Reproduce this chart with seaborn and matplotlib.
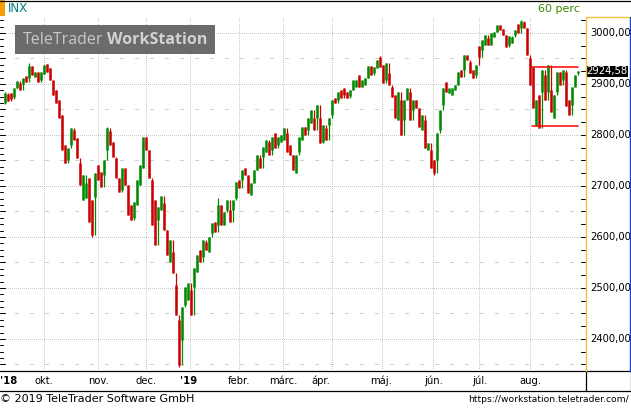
import numpy as np
import pandas as pd
import matplotlib
matplotlib.use("Agg")
import matplotlib.pyplot as plt
import matplotlib.transforms as mtrans
from matplotlib.patches import Rectangle
from matplotlib.lines import Line2D
import seaborn as sns

# ---------------- data (S&P 500 / INX, 60-minute candles, sampled) ----------------
open_ = [2863, 2880, 2882, 2874, 2892, 2902, 2900, 2916, 2912, 2935, 2914, 2923, 2908, 2920, 2939, 2931,
         2908, 2888, 2869, 2839, 2780, 2751, 2780, 2810, 2794, 2745, 2673, 2677, 2716, 2673, 2678, 2741,
         2727, 2722, 2771, 2808, 2786, 2755, 2716, 2692, 2735, 2702, 2663, 2637, 2663, 2702, 2735, 2796,
         2771, 2712, 2673, 2633, 2653, 2667, 2614, 2551, 2571, 2506, 2437, 2398, 2467, 2477, 2496, 2502,
         2531, 2575, 2561, 2590, 2571, 2608, 2629, 2624, 2663, 2624, 2653, 2653, 2653, 2677, 2712, 2712,
         2735, 2722, 2682, 2706, 2731, 2755, 2757, 2767, 2786, 2771, 2804, 2780, 2786, 2790, 2804, 2780,
         2761, 2725, 2767, 2790, 2816, 2810, 2824, 2833, 2833, 2833, 2786, 2814, 2820, 2839, 2873, 2869,
         2888, 2892, 2884, 2876, 2888, 2894, 2918, 2894, 2898, 2912, 2935, 2922, 2931, 2953, 2937, 2908,
         2922, 2894, 2878, 2829, 2869, 2829, 2869, 2884, 2849, 2869, 2853, 2810, 2829, 2771, 2771, 2751,
         2751, 2810, 2859, 2904, 2882, 2878, 2888, 2898, 2927, 2927, 2957, 2943, 2927, 2918, 2974, 2967,
         2976, 2990, 2976, 2992, 3002, 3016, 3008, 2996, 2976, 2980, 2996, 3018, 3010, 3021, 3010, 2951,
         2933, 2820, 2878, 2884, 2918, 2884, 2888, 2833, 2884, 2923, 2908, 2923, 2869, 2859, 2894, 2921]
high = [2885, 2882, 2882, 2892, 2906, 2906, 2912, 2916, 2941, 2935, 2923, 2923, 2923, 2937, 2939, 2931,
        2908, 2888, 2869, 2839, 2780, 2775, 2814, 2814, 2794, 2755, 2722, 2722, 2716, 2673, 2725, 2741,
        2727, 2751, 2816, 2814, 2786, 2757, 2716, 2735, 2735, 2702, 2663, 2669, 2712, 2741, 2796, 2796,
        2771, 2716, 2673, 2659, 2680, 2680, 2614, 2594, 2594, 2530, 2447, 2463, 2502, 2510, 2510, 2539,
        2565, 2575, 2594, 2594, 2600, 2628, 2629, 2676, 2663, 2649, 2673, 2673, 2673, 2708, 2712, 2731,
        2735, 2722, 2706, 2731, 2761, 2761, 2776, 2790, 2790, 2796, 2804, 2796, 2800, 2814, 2814, 2780,
        2761, 2761, 2796, 2816, 2816, 2833, 2849, 2849, 2859, 2859, 2820, 2820, 2833, 2869, 2873, 2884,
        2888, 2892, 2884, 2888, 2908, 2908, 2918, 2908, 2912, 2935, 2935, 2933, 2947, 2954, 2937, 2941,
        2941, 2898, 2878, 2884, 2884, 2869, 2892, 2892, 2869, 2869, 2853, 2839, 2839, 2784, 2784, 2751,
        2804, 2849, 2892, 2904, 2892, 2892, 2898, 2923, 2927, 2957, 2957, 2947, 2927, 2937, 2974, 2986,
        2996, 2996, 3000, 3002, 3016, 3016, 3008, 2996, 2994, 2994, 3006, 3018, 3025, 3023, 3010, 2957,
        2933, 2869, 2878, 2927, 2927, 2937, 2937, 2878, 2923, 2923, 2927, 2927, 2869, 2894, 2918, 2925]
low = [2860, 2867, 2867, 2871, 2892, 2888, 2888, 2904, 2904, 2918, 2914, 2904, 2904, 2920, 2923, 2908,
       2878, 2863, 2833, 2771, 2745, 2745, 2775, 2790, 2755, 2702, 2673, 2677, 2629, 2600, 2604, 2712,
       2698, 2698, 2751, 2780, 2757, 2716, 2688, 2688, 2702, 2643, 2633, 2633, 2663, 2702, 2735, 2771,
       2716, 2624, 2584, 2584, 2653, 2614, 2565, 2551, 2530, 2447, 2346, 2349, 2463, 2477, 2447, 2447,
       2531, 2551, 2551, 2575, 2571, 2600, 2610, 2610, 2624, 2624, 2649, 2629, 2629, 2673, 2696, 2696,
       2722, 2686, 2682, 2706, 2731, 2735, 2735, 2767, 2761, 2761, 2775, 2775, 2786, 2790, 2767, 2761,
       2731, 2725, 2761, 2790, 2800, 2800, 2824, 2810, 2810, 2784, 2784, 2790, 2790, 2833, 2863, 2863,
       2873, 2873, 2873, 2873, 2888, 2894, 2894, 2894, 2898, 2912, 2918, 2918, 2931, 2933, 2902, 2902,
       2898, 2874, 2833, 2829, 2800, 2800, 2869, 2829, 2829, 2853, 2816, 2810, 2775, 2771, 2735, 2722,
       2726, 2804, 2849, 2884, 2882, 2878, 2888, 2898, 2914, 2914, 2947, 2922, 2912, 2912, 2937, 2953,
       2976, 2976, 2976, 2992, 3002, 3006, 2996, 2972, 2972, 2980, 2992, 3000, 3000, 3010, 2957, 2898,
       2853, 2817, 2814, 2814, 2869, 2869, 2845, 2833, 2878, 2898, 2898, 2857, 2839, 2839, 2894, 2918]
close = [2882, 2867, 2871, 2892, 2906, 2888, 2912, 2904, 2935, 2918, 2923, 2904, 2923, 2937, 2923, 2908,
         2878, 2863, 2833, 2771, 2745, 2775, 2814, 2790, 2755, 2702, 2722, 2706, 2629, 2604, 2725, 2712,
         2698, 2751, 2814, 2780, 2757, 2716, 2688, 2735, 2702, 2643, 2633, 2669, 2712, 2741, 2796, 2771,
         2716, 2624, 2584, 2659, 2680, 2614, 2565, 2594, 2530, 2447, 2349, 2463, 2502, 2510, 2447, 2539,
         2565, 2551, 2594, 2575, 2600, 2628, 2610, 2663, 2624, 2649, 2673, 2629, 2673, 2708, 2696, 2731,
         2722, 2686, 2706, 2731, 2761, 2735, 2776, 2790, 2761, 2796, 2775, 2796, 2800, 2814, 2767, 2761,
         2731, 2761, 2796, 2816, 2800, 2833, 2849, 2810, 2859, 2784, 2820, 2790, 2833, 2869, 2863, 2884,
         2873, 2878, 2873, 2888, 2908, 2908, 2894, 2908, 2912, 2935, 2918, 2933, 2947, 2933, 2902, 2941,
         2898, 2874, 2833, 2884, 2800, 2869, 2892, 2829, 2869, 2853, 2816, 2839, 2775, 2784, 2735, 2726,
         2804, 2849, 2892, 2884, 2892, 2892, 2898, 2923, 2914, 2957, 2947, 2922, 2912, 2937, 2953, 2986,
         2996, 2976, 3000, 3002, 3016, 3006, 2996, 2972, 2994, 2992, 3006, 3000, 3023, 3010, 2957, 2898,
         2853, 2869, 2814, 2927, 2869, 2937, 2845, 2878, 2923, 2898, 2927, 2857, 2839, 2894, 2918, 2925]

month_labels = ["'18", "okt.", "nov.", "dec.", "'19", "febr.", "márc.", "ápr.", "máj.", "jún.", "júl.", "aug."]
month_bold = [True, False, False, False, True, False, False, False, False, False, False, False]
month_start_idx = [13.0, 31.0, 47.0, 61.7, 78.1, 92.8, 109.1, 125.5, 142.8, 158.1, 175.0]   # okt .. aug
month_label_idx = [1.3, 13.0, 31.2, 47.0, 61.3, 78.0, 92.8, 105.3, 125.2, 142.7, 158.2, 175.2]
price_ticks = [2400, 2500, 2600, 2700, 2800, 2900, 3000]
last_price = 2924.58
range_high, range_low = 2934, 2818
range_idx = [175.7, 191.0]
symbol, interval = "INX", "60 perc"

# ---------------- figure geometry ----------------
W, H = 631, 408
PL, PR, PT, PB = 0, 585, 16, 370
sns.set_style("white")
plt.rcParams["font.family"] = ["DejaVu Sans"]
fig = plt.figure(figsize=(W / 100, H / 100), dpi=100)
fig.patch.set_facecolor("white")

def fx(x):
    return x / W

def fy(y):
    return 1 - y / H

ax = fig.add_axes([fx(PL), fy(PB), (PR - PL) / W, (PB - PT) / H])
ax.set_xlim(-5 / 3, 580 / 3)
ax.set_ylim(2339.2, 3033.3)
ax.set_axis_off()

# horizontal grid: dotted at 100s, short dashes at 50s; vertical dotted at month starts
for p in range(2400, 3001, 100):
    ax.axhline(p, color="#c8c8c8", lw=0.72, ls=(0, (1, 2)), antialiased=False, zorder=0)
for p in range(2350, 3001, 100):
    ax.axhline(p, color="#d0d0d0", lw=0.72, ls=(0, (4, 11)), antialiased=False, zorder=0)
for m in month_start_idx:
    ax.axvline(m, color="#c8c8c8", lw=0.72, ls=(0, (1, 2)), antialiased=False, zorder=0)

# candles via seaborn (wick = high/low, body = open/close)
n = len(open_)
idx = np.arange(n)
direction = np.where(np.array(close) >= np.array(open_), "up", "down")
pal = {"up": "#008a00", "down": "#cc0000"}
wicks = pd.DataFrame({
    "i": np.repeat(idx, 2),
    "price": np.column_stack([low, high]).ravel(),
    "dir": np.repeat(direction, 2),
})
bodies = pd.DataFrame({
    "i": np.repeat(idx, 2),
    "price": np.column_stack([open_, close]).ravel(),
    "dir": np.repeat(direction, 2),
})
sns.lineplot(data=wicks, x="i", y="price", hue="dir", units="i", estimator=None, sort=False,
             palette=pal, lw=0.9, legend=False, ax=ax, solid_capstyle="butt", zorder=3)
sns.lineplot(data=bodies, x="i", y="price", hue="dir", units="i", estimator=None, sort=False,
             palette=pal, lw=1.8, legend=False, ax=ax, solid_capstyle="butt", zorder=3)

# trading-range lines
rng = pd.DataFrame({"i": range_idx * 2, "price": [range_high] * 2 + [range_low] * 2,
                    "lvl": ["h", "h", "l", "l"]})
sns.lineplot(data=rng, x="i", y="price", units="lvl", estimator=None, color="#ff0000",
             lw=1.1, legend=False, ax=ax, zorder=4)

# y ticks (left every 12.5, right every 25)
bl = mtrans.blended_transform_factory(ax.transAxes, ax.transData)
for k in range(0, 60):
    p = 2350 + 12.5 * k
    if p > 3033:
        break
    ln = 5 if p % 50 == 0 else 3
    ax.add_line(Line2D([0, ln / 585], [p, p], transform=bl, color="black", lw=0.72, clip_on=False))
for k in range(0, 30):
    p = 2350 + 25 * k
    if p > 3033:
        break
    ax.add_line(Line2D([1 - 4 / 585, 1], [p, p], transform=bl, color="black", lw=0.72, clip_on=False))

# right axis labels
for p in price_ticks:
    ax.text(590 / 585, p, f"{p:.2f}".replace(".", ","), transform=bl,
            ha="left", va="center", fontsize=7.2, color="black", clip_on=False)
# last price box
lp_lbl = f"{last_price:.2f}".replace(".", ",")
ax.add_patch(Rectangle((586 / 585, last_price - 10.5), 42 / 585, 21, transform=bl,
                       facecolor="black", edgecolor="none", clip_on=False, zorder=6))
ax.text(607 / 585, last_price, lp_lbl, transform=bl, ha="center", va="center",
        fontsize=7.2, color="white", clip_on=False, zorder=7)

# ---------------- frame lines ----------------
def fline(x0, y0, x1, y1, color="black", lw=0.9):
    fig.add_artist(Line2D([fx(x0), fx(x1)], [fy(y0), fy(y1)], color=color, lw=lw))

fline(0, 0.5, W, 0.5)
fline(0, 370.5, W, 370.5)
fline(0, 390.5, W, 390.5)
fline(585.5, 370.5, 585.5, 390.5)
fline(630.5, 370.5, 630.5, 390.5)
fline(585.5, 16.5, 585.5, 370.5, color="#f0c040", lw=1.0)
fline(585.5, 16.5, 628.5, 16.5, color="#f0c040", lw=1.0)
fline(629.5, 16.5, 629.5, 370.5, color="#2040c0", lw=1.0)
fig.add_artist(Rectangle((fx(0), fy(16)), fx(5), 16 / H, facecolor="#f5a000", edgecolor="none"))

# header
fig.text(fx(8), fy(8.5), symbol, ha="left", va="center", fontsize=8.5, color="#008080")
fig.text(fx(580), fy(8.5), interval, ha="right", va="center", fontsize=8, color="#3a8a00")

# watermark
fig.add_artist(Rectangle((fx(15), fy(54)), 200 / W, 29 / H, facecolor="#6b6b6b", edgecolor="none", zorder=5))
fig.text(fx(23), fy(40), "TeleTrader", ha="left", va="center", fontsize=11.5,
         family="Open Sans", color="#c8c8c8", zorder=6)
fig.text(fx(107), fy(40), "WorkStation", ha="left", va="center", fontsize=11.5,
         family="Open Sans", weight="bold", color="#d2d2d2", zorder=6)

# date axis labels
for lbl, pos, b in zip(month_labels, month_label_idx, month_bold):
    xpx = 5 + 3 * pos
    fig.text(fx(xpx), fy(381), lbl, ha="center", va="center", fontsize=7.2,
             weight="bold" if b else "normal", color="black")

# footer
fig.text(fx(0), fy(399.5), "© 2019 TeleTrader Software GmbH", ha="left", va="center",
         fontsize=8, color="black")
fig.text(fx(629), fy(399.5), "https://workstation.teletrader.com/", ha="right", va="center",
         fontsize=6.6, color="black")

fig.savefig("out.png", dpi=100, facecolor="white")
